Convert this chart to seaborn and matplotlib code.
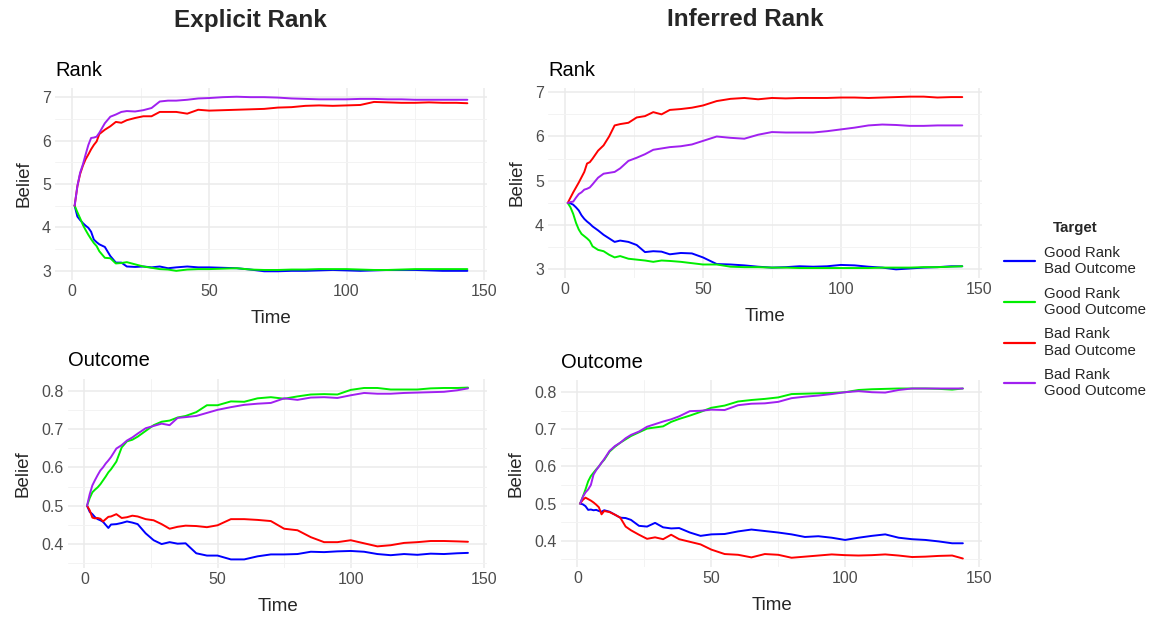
import numpy as np
import pandas as pd
import seaborn as sns
from matplotlib import pyplot as plt
from matplotlib.ticker import MultipleLocator, FixedLocator

TIME = [1, 2, 3, 4, 5, 6, 7, 8, 9, 10, 12, 14, 16, 18, 20, 23, 26, 29, 32, 35, 38, 42, 46, 50,
        55, 60, 65, 70, 75, 80, 85, 90, 95, 100, 105, 110, 115, 120, 125, 130, 135, 140, 144]

TARGETS = ['Good Rank\nBad Outcome', 'Good Rank\nGood Outcome',
           'Bad Rank\nBad Outcome', 'Bad Rank\nGood Outcome']
COLORS = ['#0000FF', '#00EE00', '#FF0000', '#A020F0']

# Explicit Rank - rank belief
explicit_rank_gb = [4.5, 4.25, 4.17, 4.1, 4.04, 3.99, 3.9, 3.72, 3.66, 3.61, 3.55, 3.34, 3.19, 3.19, 3.1, 3.09,
                    3.1, 3.08, 3.1, 3.06, 3.08, 3.1, 3.08, 3.08, 3.07, 3.06, 3.03, 2.99, 2.99, 3.0, 3.0, 3.01,
                    3.02, 3.01, 3.0, 3.01, 3.02, 3.02, 3.02, 3.01, 3.0, 3.0, 3.0]
explicit_rank_gg = [4.5, 4.35, 4.21, 4.06, 3.94, 3.83, 3.73, 3.64, 3.57, 3.45, 3.3, 3.29, 3.17, 3.18, 3.2, 3.15,
                    3.1, 3.07, 3.04, 3.03, 3.0, 3.03, 3.04, 3.04, 3.05, 3.06, 3.03, 3.02, 3.02, 3.03, 3.03, 3.04,
                    3.04, 3.04, 3.03, 3.02, 3.02, 3.03, 3.04, 3.04, 3.04, 3.04, 3.04]
explicit_rank_bb = [4.5, 4.95, 5.23, 5.42, 5.57, 5.68, 5.8, 5.9, 5.98, 6.15, 6.25, 6.33, 6.43, 6.41, 6.47, 6.52,
                    6.56, 6.56, 6.66, 6.66, 6.66, 6.62, 6.71, 6.69, 6.7, 6.71, 6.72, 6.73, 6.76, 6.77, 6.8, 6.81,
                    6.8, 6.81, 6.82, 6.89, 6.88, 6.87, 6.87, 6.88, 6.87, 6.87, 6.86]
explicit_rank_bg = [4.5, 4.95, 5.26, 5.45, 5.68, 5.9, 6.06, 6.07, 6.09, 6.18, 6.4, 6.55, 6.6, 6.66, 6.68, 6.67,
                    6.7, 6.75, 6.9, 6.92, 6.92, 6.94, 6.97, 6.98, 7.0, 7.01, 7.0, 7.0, 6.99, 6.97, 6.96, 6.95,
                    6.95, 6.95, 6.96, 6.96, 6.95, 6.95, 6.94, 6.94, 6.94, 6.94, 6.94]

# Inferred Rank - rank belief
inferred_rank_gb = [4.5, 4.49, 4.46, 4.4, 4.33, 4.22, 4.14, 4.08, 4.03, 3.97, 3.88, 3.78, 3.7, 3.62, 3.65, 3.62,
                    3.55, 3.39, 3.41, 3.4, 3.34, 3.37, 3.36, 3.27, 3.12, 3.11, 3.09, 3.06, 3.04, 3.05, 3.07, 3.06,
                    3.07, 3.1, 3.09, 3.06, 3.04, 3.0, 3.02, 3.04, 3.05, 3.07, 3.07]
inferred_rank_gg = [4.5, 4.4, 4.25, 4.05, 3.9, 3.8, 3.75, 3.7, 3.64, 3.52, 3.44, 3.41, 3.33, 3.27, 3.3, 3.24,
                    3.22, 3.2, 3.17, 3.2, 3.19, 3.17, 3.14, 3.11, 3.11, 3.06, 3.05, 3.05, 3.04, 3.04, 3.03, 3.03,
                    3.03, 3.03, 3.03, 3.03, 3.04, 3.04, 3.04, 3.05, 3.05, 3.06, 3.07]
inferred_rank_bb = [4.5, 4.62, 4.74, 4.85, 4.96, 5.08, 5.2, 5.39, 5.42, 5.5, 5.68, 5.8, 6.0, 6.25, 6.28, 6.31,
                    6.43, 6.46, 6.55, 6.5, 6.6, 6.62, 6.65, 6.7, 6.8, 6.85, 6.87, 6.84, 6.87, 6.86, 6.87, 6.87,
                    6.87, 6.88, 6.88, 6.87, 6.88, 6.89, 6.9, 6.9, 6.88, 6.89, 6.89]
inferred_rank_bg = [4.5, 4.52, 4.53, 4.62, 4.7, 4.74, 4.8, 4.82, 4.85, 4.92, 5.07, 5.16, 5.18, 5.2, 5.28, 5.45,
                    5.52, 5.6, 5.7, 5.73, 5.76, 5.78, 5.82, 5.9, 6.0, 5.97, 5.95, 6.04, 6.1, 6.09, 6.09, 6.09,
                    6.12, 6.16, 6.2, 6.25, 6.27, 6.26, 6.24, 6.24, 6.25, 6.25, 6.25]

# Explicit Rank - outcome belief
explicit_out_gb = [0.5, 0.484, 0.478, 0.47, 0.465, 0.462, 0.458, 0.45, 0.442, 0.451, 0.452, 0.455, 0.459, 0.456,
                   0.452, 0.428, 0.41, 0.4, 0.405, 0.401, 0.402, 0.376, 0.37, 0.37, 0.36, 0.36, 0.368, 0.373,
                   0.373, 0.374, 0.38, 0.379, 0.381, 0.382, 0.38, 0.374, 0.371, 0.374, 0.372, 0.375, 0.374,
                   0.376, 0.377]
explicit_out_gg = [0.5, 0.52, 0.535, 0.542, 0.548, 0.556, 0.566, 0.576, 0.587, 0.595, 0.615, 0.652, 0.668, 0.672,
                   0.68, 0.695, 0.71, 0.719, 0.722, 0.73, 0.734, 0.744, 0.762, 0.762, 0.772, 0.771, 0.78, 0.783,
                   0.779, 0.785, 0.79, 0.791, 0.79, 0.802, 0.807, 0.807, 0.803, 0.803, 0.803, 0.806, 0.807,
                   0.807, 0.808]
explicit_out_bb = [0.5, 0.488, 0.469, 0.467, 0.468, 0.466, 0.459, 0.465, 0.471, 0.472, 0.478, 0.468, 0.47, 0.474,
                   0.472, 0.465, 0.462, 0.452, 0.44, 0.445, 0.448, 0.447, 0.444, 0.449, 0.465, 0.465, 0.463,
                   0.46, 0.44, 0.436, 0.418, 0.405, 0.405, 0.41, 0.402, 0.394, 0.397, 0.403, 0.405, 0.408,
                   0.408, 0.407, 0.406]
explicit_out_bg = [0.5, 0.53, 0.553, 0.567, 0.58, 0.592, 0.6, 0.61, 0.618, 0.627, 0.649, 0.658, 0.67, 0.678,
                   0.688, 0.702, 0.708, 0.714, 0.71, 0.729, 0.731, 0.734, 0.742, 0.75, 0.757, 0.763, 0.766,
                   0.768, 0.78, 0.776, 0.782, 0.783, 0.781, 0.788, 0.794, 0.792, 0.792, 0.794, 0.795, 0.796,
                   0.797, 0.801, 0.806]

# Inferred Rank - outcome belief
inferred_out_gb = [0.5, 0.498, 0.493, 0.483, 0.484, 0.482, 0.483, 0.48, 0.478, 0.482, 0.478, 0.47, 0.462, 0.461,
                   0.456, 0.44, 0.438, 0.448, 0.436, 0.433, 0.434, 0.422, 0.413, 0.417, 0.418, 0.425, 0.43,
                   0.426, 0.422, 0.417, 0.41, 0.412, 0.408, 0.402, 0.408, 0.413, 0.417, 0.408, 0.404, 0.402,
                   0.398, 0.393, 0.393]
inferred_out_gg = [0.5, 0.518, 0.538, 0.56, 0.574, 0.583, 0.592, 0.6, 0.61, 0.618, 0.64, 0.653, 0.664, 0.673,
                   0.682, 0.692, 0.702, 0.705, 0.708, 0.72, 0.728, 0.737, 0.747, 0.758, 0.764, 0.775, 0.779,
                   0.782, 0.786, 0.795, 0.796, 0.797, 0.798, 0.8, 0.806, 0.808, 0.809, 0.81, 0.81, 0.81, 0.809,
                   0.807, 0.81]
inferred_out_bb = [0.5, 0.51, 0.516, 0.512, 0.508, 0.503, 0.497, 0.49, 0.471, 0.48, 0.477, 0.47, 0.462, 0.438,
                   0.428, 0.416, 0.405, 0.409, 0.404, 0.416, 0.404, 0.397, 0.39, 0.376, 0.364, 0.362, 0.355,
                   0.364, 0.362, 0.354, 0.357, 0.36, 0.363, 0.361, 0.36, 0.361, 0.363, 0.36, 0.356, 0.357,
                   0.359, 0.36, 0.352]
inferred_out_bg = [0.5, 0.518, 0.53, 0.538, 0.55, 0.578, 0.59, 0.6, 0.61, 0.62, 0.642, 0.655, 0.664, 0.676,
                   0.685, 0.694, 0.707, 0.714, 0.721, 0.727, 0.735, 0.749, 0.75, 0.753, 0.752, 0.765, 0.769,
                   0.77, 0.774, 0.784, 0.788, 0.791, 0.795, 0.8, 0.803, 0.8, 0.799, 0.806, 0.81, 0.81, 0.81,
                   0.81, 0.81]


def make_frame(series):
    parts = []
    for target, values in zip(TARGETS, series):
        parts.append(pd.DataFrame({'Time': TIME, 'Belief': values, 'Target': target}))
    return pd.concat(parts, ignore_index=True)


def style_panel(ax, title, y_step):
    ax.set_title(title, loc='left', fontsize=14.5, pad=9, color='black')
    ax.set_xlabel('Time', fontsize=13.5, labelpad=8)
    ax.set_ylabel('Belief', fontsize=13.5, labelpad=7)
    ax.set_xlim(-6.15, 151.15)
    ax.xaxis.set_major_locator(MultipleLocator(50))
    ax.xaxis.set_minor_locator(FixedLocator([25, 75, 125]))
    ax.yaxis.set_major_locator(MultipleLocator(y_step))
    lo, hi = ax.get_ylim()
    ax.yaxis.set_minor_locator(FixedLocator(np.arange(np.floor(lo / y_step) * y_step + y_step / 2,
                                                      hi, y_step)))
    ax.grid(which='major', color='#EBEBEB', linewidth=1.1)
    ax.grid(which='minor', color='#F3F3F3', linewidth=0.7)
    ax.tick_params(which='both', length=0, labelsize=11.5, labelcolor='#4D4D4D', pad=3)
    for spine in ax.spines.values():
        spine.set_visible(False)
    ax.set_facecolor('white')


sns.set_theme(style='white')
plt.rcParams['font.family'] = ['Liberation Sans', 'DejaVu Sans']

fig = plt.figure(figsize=(11.5, 6.24), dpi=100)
W, H = 1150, 624


def add_panel(left, right, top, bottom):
    return fig.add_axes([left / W, 1 - bottom / H, (right - left) / W, (bottom - top) / H])


ax1 = add_panel(55, 487, 88, 280)
ax2 = add_panel(548, 982, 88, 278)
ax3 = add_panel(68, 487, 379, 568)
ax4 = add_panel(561, 982, 380, 567)

panels = [
    (ax1, [explicit_rank_gb, explicit_rank_gg, explicit_rank_bb, explicit_rank_bg], 'Rank', 1.0),
    (ax2, [inferred_rank_gb, inferred_rank_gg, inferred_rank_bb, inferred_rank_bg], 'Rank', 1.0),
    (ax3, [explicit_out_gb, explicit_out_gg, explicit_out_bb, explicit_out_bg], 'Outcome', 0.1),
    (ax4, [inferred_out_gb, inferred_out_gg, inferred_out_bb, inferred_out_bg], 'Outcome', 0.1),
]

palette = dict(zip(TARGETS, COLORS))
for i, (ax, series, title, y_step) in enumerate(panels):
    df = make_frame(series)
    sns.lineplot(data=df, x='Time', y='Belief', hue='Target', hue_order=TARGETS,
                 palette=palette, linewidth=1.4, ax=ax, legend=(i == 0))
    style_panel(ax, title, y_step)

handles, labels = ax1.get_legend_handles_labels()
ax1.get_legend().remove()
leg = fig.legend(handles, labels, title='Target', loc='upper left',
                 bbox_to_anchor=(990 / W, 1 - 208 / H), frameon=False,
                 fontsize=10.8, title_fontsize=10.8, handlelength=2.1,
                 labelspacing=0.7, handletextpad=0.6)
leg.get_title().set_fontweight('bold')
for text in leg.get_texts():
    text.set_linespacing(1.2)
for line in leg.get_lines():
    line.set_linewidth(1.6)

fig.text(250 / W, 1 - 20 / H, 'Explicit Rank', ha='center', va='center', fontsize=17.5, fontweight='bold')
fig.text(745 / W, 1 - 20 / H, 'Inferred Rank', ha='center', va='center', fontsize=17.5, fontweight='bold')

fig.savefig('out.png', dpi=100, facecolor='white')
